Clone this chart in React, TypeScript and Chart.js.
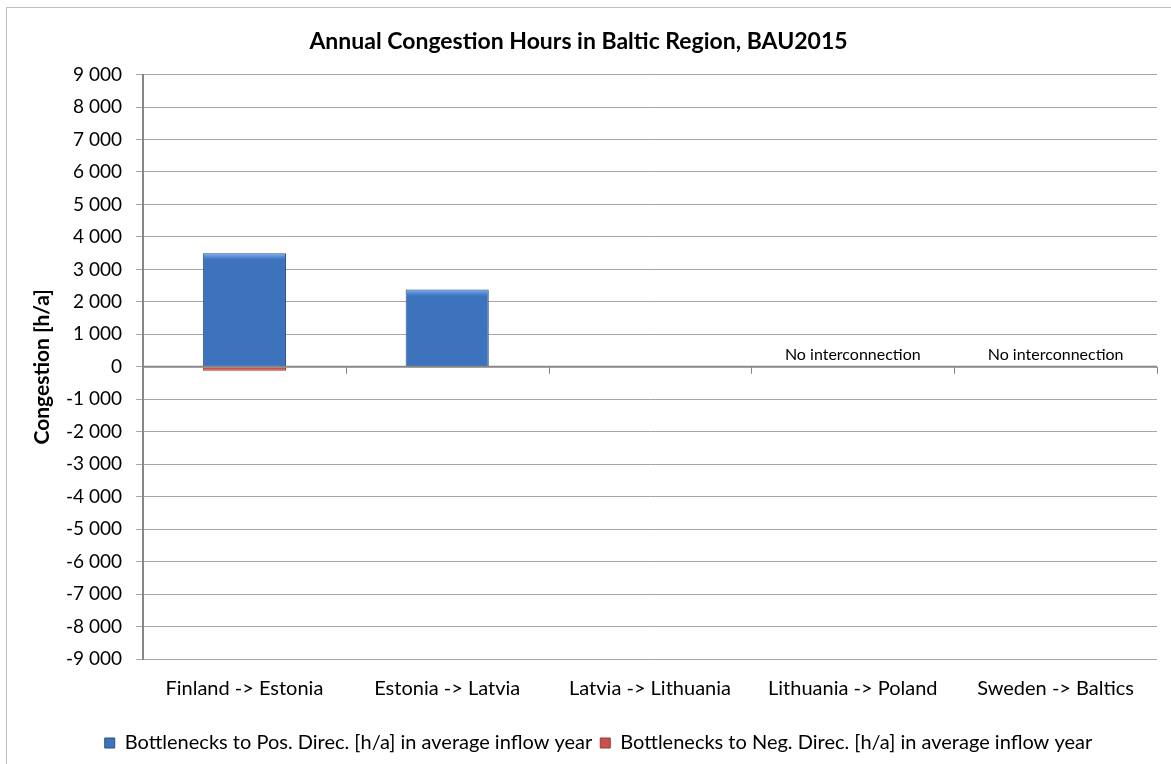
import React, { useEffect, useRef } from "react";
import { Chart, registerables } from "chart.js";

Chart.register(...registerables);

const categories = [
  "Finland -> Estonia",
  "Estonia -> Latvia",
  "Latvia -> Lithuania",
  "Lithuania -> Poland",
  "Sweden -> Baltics",
];
const posValues = [3500, 2380, 0, 0, 0];
const negValues = [-120, -10, 0, 0, 0];
const annotations = ["", "", "", "No interconnection", "No interconnection"];
const seriesNames = [
  "Bottlenecks to Pos. Direc. [h/a] in average inflow year",
  "Bottlenecks to Neg. Direc. [h/a] in average inflow year",
];
const titleText = "Annual Congestion Hours in Baltic Region, BAU2015";
const yTitle = "Congestion [h/a]";
const yMin = -9000;
const yMax = 9000;
const yStep = 1000;

const FONT = "Lato, 'Open Sans', sans-serif";

function fmt(v: number): string {
  const s = Math.abs(v).toString().replace(/\B(?=(\d{3})+(?!\d))/g, " ");
  return (v < 0 ? "-" : "") + s;
}

const extrasPlugin = {
  id: "extras",
  afterLayout(chart: any) {
    const lg = chart.legend;
    if (lg) {
      lg.left += 20;
      lg.right += 20;
    }
  },
  beforeDraw(chart: any) {
    const { ctx } = chart;
    ctx.save();
    ctx.fillStyle = "#ffffff";
    ctx.fillRect(0, 0, chart.width, chart.height);
    ctx.strokeStyle = "#bfbfbf";
    ctx.lineWidth = 1;
    ctx.strokeRect(6.5, 7.5, chart.width + 20, chart.height + 20);
    ctx.restore();
  },
  afterDatasetsDraw(chart: any) {
    const { ctx, scales } = chart;
    const x = scales.x;
    const y = scales.y;
    const y0 = y.getPixelForValue(0);
    ctx.save();
    // bevel highlight on positive bars
    const meta = chart.getDatasetMeta(0);
    meta.data.forEach((el: any) => {
      const h = el.base - el.y;
      if (h < 8) return;
      const l = el.x - el.width / 2;
      const g = ctx.createLinearGradient(0, el.y, 0, el.y + 7);
      g.addColorStop(0, "rgba(140,190,245,0.95)");
      g.addColorStop(1, "rgba(90,150,225,0)");
      ctx.fillStyle = g;
      ctx.fillRect(l + 1, el.y + 1, el.width - 2, 7);
    });
    // zero line
    ctx.strokeStyle = "#868686";
    ctx.lineWidth = 2;
    ctx.beginPath();
    ctx.moveTo(chart.chartArea.left, y0);
    ctx.lineTo(chart.chartArea.right, y0);
    ctx.stroke();
    // category tick marks
    ctx.lineWidth = 1;
    const n = categories.length;
    const w = (chart.chartArea.right - chart.chartArea.left) / n;
    for (let i = 1; i <= n; i++) {
      const px = Math.round(chart.chartArea.left + w * i) + 0.5;
      ctx.beginPath();
      ctx.moveTo(px, y0);
      ctx.lineTo(px, y0 + 7);
      ctx.stroke();
    }
    // annotations
    ctx.fillStyle = "#000000";
    ctx.font = `16px ${FONT}`;
    ctx.textAlign = "center";
    ctx.textBaseline = "bottom";
    annotations.forEach((t, i) => {
      if (!t) return;
      ctx.fillText(t, x.getPixelForValue(i), y0 - 4);
    });
    ctx.restore();
  },
};

export default function App() {
  const ref = useRef<HTMLCanvasElement | null>(null);
  useEffect(() => {
    if (!ref.current) return;
    const chart = new Chart(ref.current, {
      type: "bar",
      data: {
        labels: categories,
        datasets: [
          {
            label: seriesNames[0],
            data: posValues,
            backgroundColor: "#3d72bc",
            borderColor: "#2b5184",
            borderWidth: 1,
            categoryPercentage: 1,
            barPercentage: 0.41,
          },
          {
            label: seriesNames[1],
            data: negValues,
            backgroundColor: "#c9504b",
            borderColor: "#9a3a36",
            borderWidth: 1,
            categoryPercentage: 1,
            barPercentage: 0.41,
          },
        ],
      },
      plugins: [extrasPlugin],
      options: {
        animation: false,
        responsive: false,
        maintainAspectRatio: false,
        layout: { padding: { left: 0, right: 14, top: 0, bottom: 1 } },
        plugins: {
          title: {
            display: true,
            text: titleText,
            color: "#000000",
            font: { family: FONT, size: 23, weight: "bold" },
            padding: { top: 28, bottom: 19 },
          },
          legend: {
            position: "bottom",
            labels: {
              color: "#000000",
              font: { family: FONT, size: 20 },
              boxWidth: 10,
              boxHeight: 10,
              padding: 8,
            },
          },
          tooltip: { enabled: false },
        },
        scales: {
          x: {
            stacked: true,
            grid: { display: false, drawTicks: false },
            border: { display: false },
            ticks: {
              color: "#000000",
              font: { family: FONT, size: 20 },
              padding: 18,
              maxRotation: 0,
            },
            afterFit(scale: any) {
              scale.height = 66;
            },
          },
          y: {
            stacked: true,
            min: yMin,
            max: yMax,
            ticks: {
              stepSize: yStep,
              color: "#000000",
              font: { family: FONT, size: 19 },
              padding: 14,
              callback: (v: any) => fmt(Number(v)),
            },
            grid: { color: "#a6a6a6", lineWidth: 1, tickLength: 7 },
            border: { display: true, color: "#868686", width: 2 },
            title: {
              display: true,
              text: yTitle,
              color: "#000000",
              font: { family: FONT, size: 21, weight: "bold" },
              padding: { top: 30, bottom: 0 },
            },
            afterFit(scale: any) {
              scale.width = 143;
            },
          },
        },
      },
    });
    return () => chart.destroy();
  }, []);
  return (
    <div style={{ position: "absolute", left: 0, top: 0, width: 1171, height: 764, background: "#fff" }}>
      <canvas ref={ref} width={1171} height={764} style={{ display: "block", width: 1171, height: 764 }} />
    </div>
  );
}
